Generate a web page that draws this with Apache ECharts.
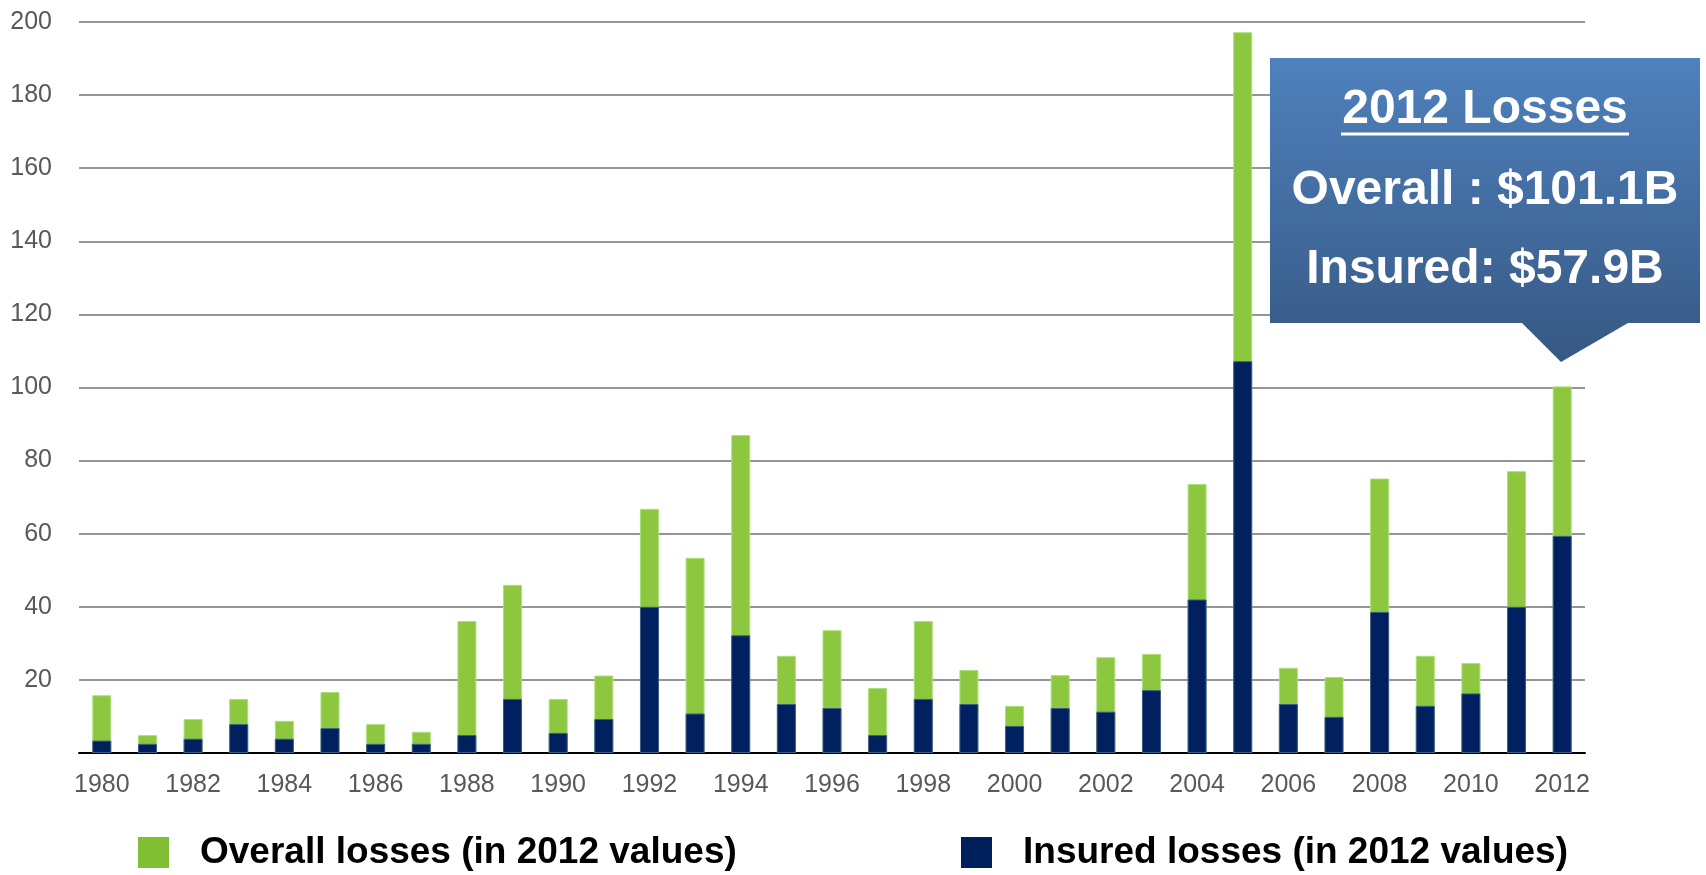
<!DOCTYPE html>
<html>
<head>
<meta charset="utf-8">
<title>Losses 1980-2012</title>
<script src="https://cdn.jsdelivr.net/npm/echarts@6/dist/echarts.min.js"></script>
<style>
    html, body { margin: 0; padding: 0; background: #fff; }
    #losses-bar { width: 1706px; height: 875px; }
</style>
</head>
<body>
<div id="losses-bar"></div>
<script>
// chart values (billions, 2012 values)
var years = ['1980', '1981', '1982', '1983', '1984', '1985', '1986', '1987', '1988', '1989',
    '1990', '1991', '1992', '1993', '1994', '1995', '1996', '1997', '1998', '1999',
    '2000', '2001', '2002', '2003', '2004', '2005', '2006', '2007', '2008', '2009',
    '2010', '2011', '2012'];
var overall = [15.8, 4.9, 9.3, 14.8, 8.8, 16.7, 7.9, 5.8, 36.1, 46.0,
    14.8, 21.2, 66.8, 53.4, 87.0, 26.6, 33.6, 17.8, 36.1, 22.7,
    12.9, 21.3, 26.2, 27.1, 73.6, 197.2, 23.3, 20.8, 75.1, 26.6,
    24.6, 77.1, 100.3];
var insured = [3.4, 2.5, 3.9, 7.9, 3.9, 6.8, 2.5, 2.5, 4.9, 14.8,
    5.5, 9.3, 40.0, 10.8, 32.2, 13.4, 12.3, 4.9, 14.8, 13.4,
    7.4, 12.3, 11.3, 17.2, 42.0, 107.2, 13.4, 9.9, 38.6, 12.9,
    16.3, 40.0, 59.4];
var seriesNames = ['Overall losses (in 2012 values)', 'Insured losses (in 2012 values)'];
var calloutLines = ['2012 Losses', 'Overall : $101.1B', 'Insured: $57.9B'];

function chartLosses() {
    "use strict";
    var myChart = echarts.init(document.getElementById('losses-bar'));
    var font = '"Liberation Sans", Arial, Helvetica, sans-serif';

    var legendText = {
        fontFamily: font,
        fontSize: 37,
        fontWeight: 'bold',
        color: '#000',
        padding: [0, 0, 0, 26]
    };

    var option = {
        animation: false,
        textStyle: { fontFamily: font },
        // Setup grid
        grid: {
            left: 79,
            right: 121,
            top: 22,
            bottom: 122,
            containLabel: false,
            outerBoundsMode: 'none'
        },
        legend: [
            {
                left: 138,
                top: 834,
                padding: 0,
                icon: 'rect',
                itemWidth: 31,
                itemHeight: 31,
                selectedMode: false,
                textStyle: legendText,
                data: [{ name: seriesNames[0], itemStyle: { color: '#80bf33', borderWidth: 0 } }]
            },
            {
                left: 961,
                top: 834,
                padding: 0,
                icon: 'rect',
                itemWidth: 31,
                itemHeight: 31,
                selectedMode: false,
                textStyle: legendText,
                data: [{ name: seriesNames[1], itemStyle: { color: '#00205b', borderWidth: 0 } }]
            }
        ],
        xAxis: [
            {
                type: 'category',
                data: years,
                boundaryGap: true,
                axisLine: { lineStyle: { color: '#000', width: 2 } },
                axisTick: { interval: 0, length: 8, lineStyle: { color: '#000', width: 2 } },
                axisLabel: {
                    interval: 1,
                    margin: 20,
                    color: '#595959',
                    fontSize: 25,
                    fontFamily: font
                },
                splitLine: { show: false }
            }
        ],
        yAxis: [
            {
                type: 'value',
                min: 0,
                max: 200,
                interval: 20,
                axisLine: { show: false },
                axisTick: { show: false },
                axisLabel: {
                    showMinLabel: false,
                    margin: 27,
                    color: '#595959',
                    fontSize: 25,
                    fontFamily: font
                },
                splitLine: { lineStyle: { color: '#959595', width: 2 } }
            }
        ],
        series: [
            {
                name: seriesNames[0],
                type: 'bar',
                data: overall,
                barWidth: 19,
                barGap: '-100%',
                itemStyle: { color: '#8dc63f', borderColor: '#ace07a', borderWidth: 1 }
            },
            {
                name: seriesNames[1],
                type: 'bar',
                data: insured,
                barWidth: 19,
                barGap: '-100%',
                itemStyle: { color: '#00205f', borderColor: '#3e5b86', borderWidth: 1 }
            }
        ],
        // 2012 callout box, drawn above the grid lines
        graphic: [
            {
                type: 'polygon',
                silent: true,
                z: 100,
                shape: {
                    points: [[1270, 58], [1700, 58], [1700, 323], [1628, 323],
                        [1561, 362], [1522, 323], [1270, 323]]
                },
                style: {
                    fill: {
                        type: 'linear', x: 0, y: 0, x2: 0, y2: 1,
                        colorStops: [
                            { offset: 0, color: '#4f81bd' },
                            { offset: 1, color: '#365883' }
                        ]
                    }
                }
            },
            {
                type: 'text',
                silent: true,
                z: 101,
                x: 1485,
                y: 110,
                style: {
                    text: calloutLines[0],
                    fill: '#fff',
                    font: 'bold 48px ' + font,
                    align: 'center',
                    verticalAlign: 'middle'
                }
            },
            {
                type: 'line',
                silent: true,
                z: 101,
                shape: { x1: 1341, y1: 134, x2: 1629, y2: 134 },
                style: { stroke: '#fff', lineWidth: 3 }
            },
            {
                type: 'text',
                silent: true,
                z: 101,
                x: 1485,
                y: 191,
                style: {
                    text: calloutLines[1],
                    fill: '#fff',
                    font: 'bold 48px ' + font,
                    align: 'center',
                    verticalAlign: 'middle'
                }
            },
            {
                type: 'text',
                silent: true,
                z: 101,
                x: 1485,
                y: 270,
                style: {
                    text: calloutLines[2],
                    fill: '#fff',
                    font: 'bold 48px ' + font,
                    align: 'center',
                    verticalAlign: 'middle'
                }
            }
        ]
    };
    myChart.setOption(option);
}
chartLosses();
</script>
</body>
</html>
